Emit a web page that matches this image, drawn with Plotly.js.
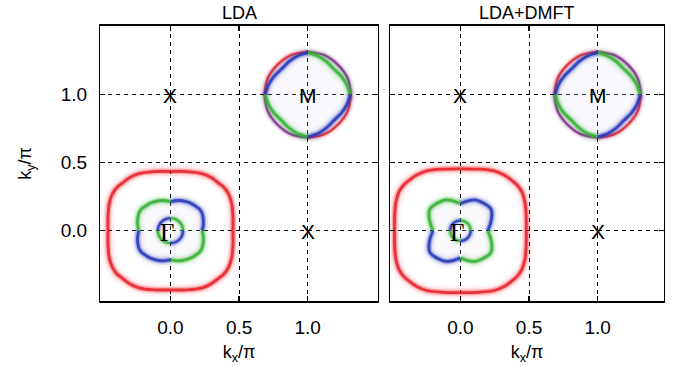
<!DOCTYPE html>
<html><head><meta charset="utf-8">
<script src="https://cdn.plot.ly/plotly-3.0.1.min.js"></script>
<style>html,body{margin:0;padding:0;background:#fff}#chart{width:673px;height:368px}</style>
</head><body><div id="chart"></div>
<script>
// ---------- data (units of pi) ----------
const panelTitles = ['LDA', 'LDA+DMFT'];
const tickVals = [0, 0.5, 1.0];
const tickText = ['0.0', '0.5', '1.0'];
const pointNames = ['Γ', 'X', 'X', 'M'];
const pointKx = [0, 0, 1, 1];
const pointKy = [0, 1, 0, 1];
const gammaCenter = [0, 0];
const mCenter = [1, 1];

// Contours: first quadrant, from angle 0 to 90 deg, relative to the pocket centre
// LDA
const ldaOuterKx = [0.455, 0.455, 0.446, 0.423, 0.390, 0.350, 0.298, 0.230, 0.120, 0.000];
const ldaOuterKy = [0.000, 0.110, 0.200, 0.270, 0.318, 0.350, 0.390, 0.420, 0.435, 0.435];
const ldaMidKx   = [0.232, 0.240, 0.237, 0.226, 0.207, 0.183, 0.155, 0.115, 0.060, 0.000];
const ldaMidKy   = [0.000, 0.050, 0.100, 0.138, 0.163, 0.180, 0.198, 0.213, 0.222, 0.214];
const ldaInnerKx = [0.092, 0.085, 0.065, 0.035, 0.000];
const ldaInnerKy = [0.000, 0.035, 0.065, 0.085, 0.092];
// LDA+DMFT
const dmftOuterKx = [0.480, 0.479, 0.470, 0.448, 0.413, 0.372, 0.318, 0.245, 0.125, 0.000];
const dmftOuterKy = [0.000, 0.115, 0.210, 0.285, 0.336, 0.372, 0.410, 0.440, 0.453, 0.455];
const dmftMidKx   = [0.200, 0.220, 0.229, 0.226, 0.212, 0.190, 0.150, 0.105, 0.055, 0.000];
const dmftMidKy   = [0.000, 0.055, 0.105, 0.150, 0.172, 0.190, 0.212, 0.226, 0.220, 0.200];
const dmftInnerKx = [0.075, 0.069, 0.053, 0.029, 0.000];
const dmftInnerKy = [0.000, 0.029, 0.053, 0.069, 0.075];
// M pocket (both panels)
const mCircleKx  = [0.315, 0.291, 0.220, 0.121, 0.000];
const mCircleKy  = [0.000, 0.121, 0.220, 0.291, 0.315];
const mDiamondKx = [0.310, 0.285, 0.245, 0.190, 0.135, 0.075, 0.000];
const mDiamondKy = [0.000, 0.075, 0.135, 0.190, 0.245, 0.285, 0.310];

// ---------- styling ----------
const C = {red: '232,32,40', green: '52,176,52', blue: '40,56,184', purple: '130,40,140'};
const glow = [{w: 14, o: 0.04}, {w: 9, o: 0.10}, {w: 5.5, o: 0.30}, {w: 2.8, o: 0.88}];

function quad(qx, qy, c, q) {
  const sx = (q === 1 || q === 4) ? 1 : -1;
  const sy = (q <= 2) ? 1 : -1;
  return {x: qx.map(v => c[0] + sx * v), y: qy.map(v => c[1] + sy * v)};
}
function closed(qx, qy, c) {
  const p1 = quad(qx, qy, c, 1), p2 = quad(qx, qy, c, 2), p3 = quad(qx, qy, c, 3), p4 = quad(qx, qy, c, 4);
  return {
    x: p1.x.concat(p2.x.slice().reverse(), p3.x, p4.x.slice().reverse()),
    y: p1.y.concat(p2.y.slice().reverse(), p3.y, p4.y.slice().reverse())
  };
}
const traces = [];
function addFill(qx, qy, c, col, ax) {
  const p = closed(qx, qy, c);
  traces.push({type: 'scatter', mode: 'lines', x: p.x, y: p.y, xaxis: ax[0], yaxis: ax[1],
    fill: 'toself', fillcolor: col, line: {width: 0, shape: 'spline', smoothing: 1}, hoverinfo: 'skip', showlegend: false});
}
function addContour(qx, qy, c, colors, ax, scale) {
  const s = scale || 1;
  for (let q = 1; q <= 4; q++) {
    const p = quad(qx, qy, c, q);
    glow.forEach(g => {
      traces.push({type: 'scatter', mode: 'lines', x: p.x, y: p.y, xaxis: ax[0], yaxis: ax[1],
        line: {color: 'rgba(' + C[colors[q - 1]] + ',' + g.o + ')', width: g.w * s, shape: 'spline', smoothing: 1},
        hoverinfo: 'skip', showlegend: false});
    });
  }
}
const panels = [
  {ax: ['x', 'y'], outer: [ldaOuterKx, ldaOuterKy], mid: [ldaMidKx, ldaMidKy], inner: [ldaInnerKx, ldaInnerKy]},
  {ax: ['x2', 'y2'], outer: [dmftOuterKx, dmftOuterKy], mid: [dmftMidKx, dmftMidKy], inner: [dmftInnerKx, dmftInnerKy]}
];
panels.forEach(P => {
  addFill(P.mid[0], P.mid[1], gammaCenter, 'rgba(225,226,245,0.18)', P.ax);
  addFill(mDiamondKx, mDiamondKy, mCenter, 'rgba(225,226,245,0.2)', P.ax);
  addContour(P.outer[0], P.outer[1], gammaCenter, ['red', 'red', 'red', 'red'], P.ax);
  addContour(P.mid[0], P.mid[1], gammaCenter, ['blue', 'green', 'blue', 'green'], P.ax);
  addContour(P.inner[0], P.inner[1], gammaCenter, ['green', 'blue', 'green', 'blue'], P.ax, 0.85);
  addContour(mCircleKx, mCircleKy, mCenter, ['purple', 'red', 'purple', 'red'], P.ax, 0.7);
  addContour(mDiamondKx, mDiamondKy, mCenter, ['green', 'blue', 'green', 'blue'], P.ax);
});

const sans = '"Liberation Sans", Arial, Helvetica, sans-serif';
function axisBase() {
  return {tickvals: tickVals, ticktext: tickText, showgrid: true, gridcolor: '#000', gridwidth: 1, griddash: '4px,4px',
    zeroline: false, showline: true, linecolor: '#000', linewidth: 1.6, mirror: 'ticks', ticks: 'inside',
    ticklen: 5, tickwidth: 1.2, tickcolor: '#000', tickfont: {family: sans, size: 19, color: '#000'}, fixedrange: true};
}
const yDom = [0.1821, 0.9293];
const xDom1 = [0.1493, 0.5612], xDom2 = [0.5801, 0.9860];
const layout = {
  width: 673, height: 368, margin: {l: 0, r: 0, t: 0, b: 0}, paper_bgcolor: '#fff', plot_bgcolor: '#fff',
  showlegend: false,
  xaxis: Object.assign(axisBase(), {domain: xDom1, range: [-0.51, 1.51], anchor: 'y', ticklabelstandoff: 9,
    title: {text: 'k<sub>x</sub>/π', font: {family: sans, size: 18, color: '#000'}, standoff: 8}}),
  yaxis: Object.assign(axisBase(), {domain: yDom, range: [-0.517, 1.505], anchor: 'x', ticklabelstandoff: 8,
    title: {text: 'k<sub>y</sub>/π', font: {family: sans, size: 18, color: '#000'}, standoff: 24}}),
  xaxis2: Object.assign(axisBase(), {domain: xDom2, range: [-0.51, 1.48], anchor: 'y2', ticklabelstandoff: 9,
    title: {text: 'k<sub>x</sub>/π', font: {family: sans, size: 18, color: '#000'}, standoff: 8}}),
  yaxis2: Object.assign(axisBase(), {domain: yDom, range: [-0.517, 1.505], anchor: 'x2', showticklabels: false}),
  annotations: []
};
panelTitles.forEach((t, i) => {
  const d = i === 0 ? xDom1 : xDom2;
  layout.annotations.push({text: t, xref: 'paper', yref: 'paper', x: (d[0] + d[1]) / 2, y: yDom[1],
    yanchor: 'bottom', xanchor: 'center', yshift: 1, showarrow: false, font: {family: sans, size: 18, color: '#000'}});
});
['', '2'].forEach(s => {
  pointNames.forEach((n, i) => {
    const isG = n === 'Γ';
    layout.annotations.push({text: n, xref: 'x' + s, yref: 'y' + s, x: pointKx[i], y: pointKy[i], showarrow: false,
      xanchor: 'center', yanchor: 'middle', xshift: isG ? -3 : 0, yshift: isG ? -2 : -1,
      font: {family: isG ? '"Liberation Serif", "Times New Roman", serif' : sans, size: isG ? 25 : 21, color: '#000'}});
  });
});
Plotly.newPlot('chart', traces, layout, {staticPlot: true, displayModeBar: false});
</script></body></html>
